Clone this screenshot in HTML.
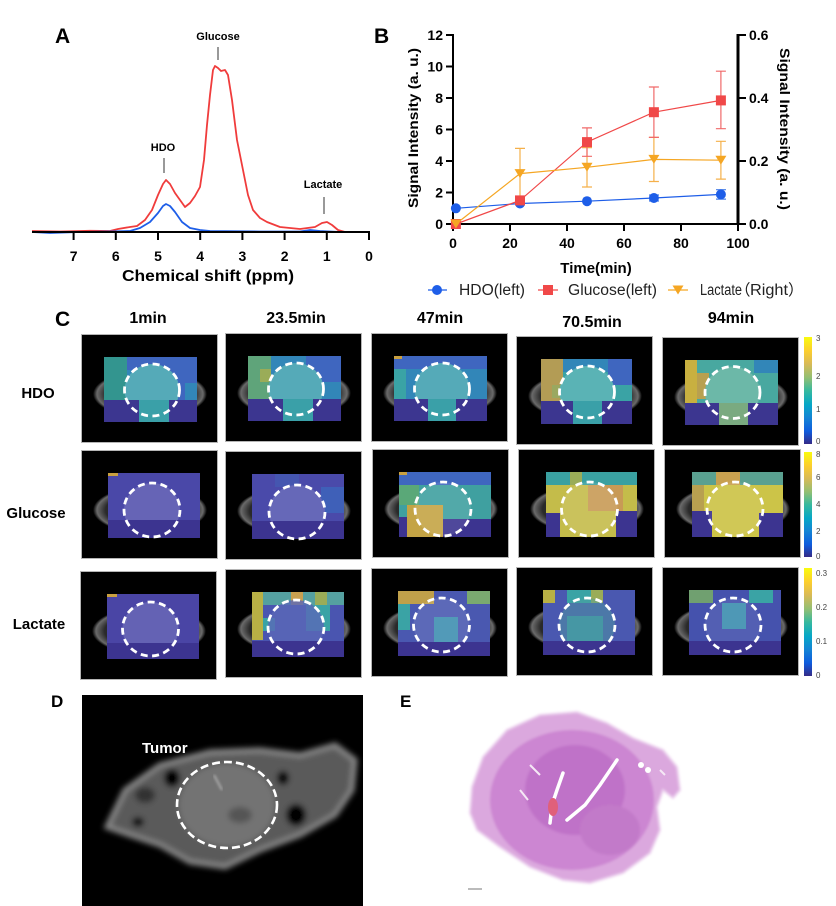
<!DOCTYPE html>
<html><head><meta charset="utf-8"><style>
html,body{margin:0;padding:0;background:#fff;}
svg{display:block;font-family:"Liberation Sans","Noto Sans CJK SC",sans-serif;}
</style></head><body>
<svg width="836" height="906" viewBox="0 0 836 906" xmlns="http://www.w3.org/2000/svg">
<defs>
<linearGradient id="parula" x1="0" y1="1" x2="0" y2="0">
<stop offset="0" stop-color="#352A87"/><stop offset="0.12" stop-color="#0F5CDD"/><stop offset="0.25" stop-color="#1485D4"/><stop offset="0.37" stop-color="#06A7C6"/><stop offset="0.5" stop-color="#38B99E"/><stop offset="0.62" stop-color="#92BF73"/><stop offset="0.75" stop-color="#D9BA56"/><stop offset="0.87" stop-color="#FCCE2E"/><stop offset="1" stop-color="#F9FB0E"/>
</linearGradient>
<radialGradient id="body" cx="0.5" cy="0.5" r="0.5">
<stop offset="0" stop-color="#222"/><stop offset="0.78" stop-color="#2a2a2a"/><stop offset="0.93" stop-color="#6a6a6a"/><stop offset="1" stop-color="#000"/>
</radialGradient>
<filter id="bl3"><feGaussianBlur stdDeviation="3"/></filter>
<filter id="bl1"><feGaussianBlur stdDeviation="1.2"/></filter>
<g id="tb"><rect x="0.5" y="0.5" width="136" height="108" fill="#000" stroke="#b5b5b5" stroke-width="1"/><ellipse cx="69" cy="60" rx="57" ry="24" fill="url(#body)"/></g>
</defs>

<!-- ============ PANEL A ============ -->
<text x="55" y="43" font-size="21" font-weight="bold" fill="#000">A</text>
<text x="218" y="40" font-size="11" font-weight="bold" text-anchor="middle">Glucose</text>
<line x1="218" y1="47" x2="218" y2="60" stroke="#333" stroke-width="1"/>
<text x="163" y="151" font-size="11" font-weight="bold" text-anchor="middle">HDO</text>
<line x1="164" y1="158" x2="164" y2="173" stroke="#333" stroke-width="1"/>
<text x="323" y="188" font-size="11" font-weight="bold" text-anchor="middle">Lactate</text>
<line x1="324" y1="197" x2="324" y2="214" stroke="#333" stroke-width="1"/>
<path d="M32,231 L60,231.5 L90,230.8 L110,231 L118,229 L130,227 L137,226 L145,220 L152,210 L158,195 L163,184 L166,180 L170,184 L175,193 L180,200 L185,207 L190,203 L195,196 L200,187 L204,160 L207,125 L210,95 L213,70 L215,66 L218,68 L221,71 L225,70 L228,75 L232,100 L237,140 L243,170 L248,195 L253,210 L260,218 L267,222 L280,227 L300,229 L315,227 L322,223 L327,222 L332,225 L338,230 L345,232 L369,232" fill="none" stroke="#f03c3c" stroke-width="1.8" stroke-linejoin="round"/>
<path d="M32,232 L50,233 L80,232 L110,231.5 L130,231 L140,228 L150,222 L158,213 L163,206 L166,204 L170,206 L175,212 L182,222 L190,228 L200,230 L210,231 L260,231.5 L300,231.5 L310,230 L320,231 L340,232 L369,232" fill="none" stroke="#1e5ee8" stroke-width="1.8" stroke-linejoin="round"/>
<line x1="32" y1="232" x2="370" y2="232" stroke="#000" stroke-width="2"/>
<g stroke="#000" stroke-width="2">
<line x1="73.6" y1="232" x2="73.6" y2="240"/><line x1="115.8" y1="232" x2="115.8" y2="240"/><line x1="158" y1="232" x2="158" y2="240"/><line x1="200.2" y1="232" x2="200.2" y2="240"/><line x1="242.4" y1="232" x2="242.4" y2="240"/><line x1="284.6" y1="232" x2="284.6" y2="240"/><line x1="326.8" y1="232" x2="326.8" y2="240"/><line x1="369" y1="232" x2="369" y2="240"/>
</g>
<g font-size="14" font-weight="bold" text-anchor="middle">
<text x="73.6" y="261">7</text><text x="115.8" y="261">6</text><text x="158" y="261">5</text><text x="200.2" y="261">4</text><text x="242.4" y="261">3</text><text x="284.6" y="261">2</text><text x="326.8" y="261">1</text><text x="369" y="261">0</text>
</g>
<text x="122" y="281" font-size="16" font-weight="bold" textLength="172" lengthAdjust="spacingAndGlyphs">Chemical shift (ppm)</text>

<!-- ============ PANEL B ============ -->
<text x="374" y="43" font-size="21" font-weight="bold">B</text>
<line x1="453" y1="34" x2="453" y2="225" stroke="#000" stroke-width="2"/>
<line x1="452" y1="224" x2="739" y2="224" stroke="#000" stroke-width="2"/>
<line x1="738" y1="34" x2="738" y2="225" stroke="#000" stroke-width="3"/>
<g stroke="#000" stroke-width="2">
<line x1="446" y1="35" x2="453" y2="35"/><line x1="446" y1="66.5" x2="453" y2="66.5"/><line x1="446" y1="98" x2="453" y2="98"/><line x1="446" y1="129.5" x2="453" y2="129.5"/><line x1="446" y1="161" x2="453" y2="161"/><line x1="446" y1="192.5" x2="453" y2="192.5"/><line x1="446" y1="224" x2="453" y2="224"/>
<line x1="738" y1="35" x2="746" y2="35"/><line x1="738" y1="98" x2="746" y2="98"/><line x1="738" y1="161" x2="746" y2="161"/><line x1="738" y1="224" x2="746" y2="224"/>
<line x1="453" y1="224" x2="453" y2="231"/><line x1="510" y1="224" x2="510" y2="231"/><line x1="567" y1="224" x2="567" y2="231"/><line x1="624" y1="224" x2="624" y2="231"/><line x1="681" y1="224" x2="681" y2="231"/><line x1="738" y1="224" x2="738" y2="231"/>
</g>
<g font-size="14" font-weight="bold" text-anchor="end">
<text x="443" y="40">12</text><text x="443" y="71.5">10</text><text x="443" y="103">8</text><text x="443" y="134.5">6</text><text x="443" y="166">4</text><text x="443" y="197.5">2</text><text x="443" y="229">0</text>
</g>
<g font-size="14" font-weight="bold">
<text x="749" y="40">0.6</text><text x="749" y="103">0.4</text><text x="749" y="166">0.2</text><text x="749" y="229">0.0</text>
</g>
<g font-size="14" font-weight="bold" text-anchor="middle">
<text x="453" y="248">0</text><text x="510" y="248">20</text><text x="567" y="248">40</text><text x="624" y="248">60</text><text x="681" y="248">80</text><text x="738" y="248">100</text>
</g>
<text x="596" y="273" font-size="15" font-weight="bold" text-anchor="middle">Time(min)</text>
<text transform="translate(418,128) rotate(-90)" font-size="14" font-weight="bold" text-anchor="middle" textLength="160" lengthAdjust="spacingAndGlyphs">Signal Intensity (a. u.)</text>
<text transform="translate(780,129) rotate(90)" font-size="14" font-weight="bold" text-anchor="middle" textLength="162" lengthAdjust="spacingAndGlyphs">Signal Intensity (a. u.)</text>
<!-- lines -->
<polyline points="455.9,208.3 520,203.5 587,201.2 653.9,198 720.9,194.4" fill="none" stroke="#1e5ee8" stroke-width="1.2"/>
<polyline points="455.9,224 520,200.4 587,142.1 653.9,112.2 720.9,100.4" fill="none" stroke="#f04848" stroke-width="1.2"/>
<polyline points="455.9,224 520,173.6 587,167.3 653.9,159.4 720.9,160.2" fill="none" stroke="#f5a623" stroke-width="1.2"/>
<!-- error bars -->
<g stroke="#f5b04a" stroke-width="1.2" fill="none">
<path d="M520,198.8 V148.4 M515,148.4 H525 M515,198.8 H525"/>
<path d="M587,187 V147.6 M582,147.6 H592 M582,187 H592"/>
<path d="M653.9,181.5 V137.4 M648.9,137.4 H658.9 M648.9,181.5 H658.9"/>
<path d="M720.9,179.1 V141.3 M715.9,141.3 H725.9 M715.9,179.1 H725.9"/>
</g>
<g stroke="#f06a6a" stroke-width="1.2" fill="none">
<path d="M587,156.3 V127.9 M582,127.9 H592 M582,156.3 H592"/>
<path d="M653.9,137.4 V87 M648.9,87 H658.9 M648.9,137.4 H658.9"/>
<path d="M720.9,128.7 V71.2 M715.9,71.2 H725.9 M715.9,128.7 H725.9"/>
</g>
<g stroke="#4a80e8" stroke-width="1.2" fill="none">
<path d="M653.9,201 V195 M649,201 H659 M649,195 H659"/>
<path d="M720.9,199.1 V189.7 M716,199.1 H726 M716,189.7 H726"/>
</g>
<!-- markers -->
<g fill="#1e5ee8"><circle cx="455.9" cy="208.3" r="5"/><circle cx="520" cy="203.5" r="5"/><circle cx="587" cy="201.2" r="5"/><circle cx="653.9" cy="198" r="5"/><circle cx="720.9" cy="194.4" r="5"/></g>
<g fill="#f04848"><rect x="450.9" y="219" width="10" height="10"/><rect x="515" y="195.4" width="10" height="10"/><rect x="582" y="137.1" width="10" height="10"/><rect x="648.9" y="107.2" width="10" height="10"/><rect x="715.9" y="95.4" width="10" height="10"/></g>
<g fill="#f5a623"><path d="M450.4,219.5 h11 l-5.5,9 z"/><path d="M514.5,169.1 h11 l-5.5,9 z"/><path d="M581.5,162.8 h11 l-5.5,9 z"/><path d="M648.4,154.9 h11 l-5.5,9 z"/><path d="M715.4,155.7 h11 l-5.5,9 z"/></g>
<!-- legend -->
<line x1="428" y1="290" x2="447" y2="290" stroke="#1e5ee8" stroke-width="1.2"/><circle cx="437" cy="290" r="5" fill="#1e5ee8"/>
<text x="459" y="295" font-size="15.5" fill="#222" textLength="66" lengthAdjust="spacingAndGlyphs">HDO(left)</text>
<line x1="538" y1="290" x2="558" y2="290" stroke="#f04848" stroke-width="1.2"/><rect x="543" y="285" width="10" height="10" fill="#f04848"/>
<text x="568" y="295" font-size="15.5" fill="#222" textLength="89" lengthAdjust="spacingAndGlyphs">Glucose(left)</text>
<line x1="668" y1="290" x2="688" y2="290" stroke="#f5a623" stroke-width="1.2"/><path d="M672.5,285.5 h11 l-5.5,9 z" fill="#f5a623"/>
<text y="295" font-size="15.5" fill="#222"><tspan x="700" textLength="42" lengthAdjust="spacingAndGlyphs">Lactate</tspan><tspan x="735">（</tspan><tspan x="750" textLength="38" lengthAdjust="spacingAndGlyphs">Right</tspan><tspan x="788">）</tspan></text>

<!-- ============ PANEL C ============ -->
<text x="55" y="326" font-size="21" font-weight="bold">C</text>
<g font-size="16" font-weight="bold" text-anchor="middle">
<text x="148" y="323">1min</text><text x="296" y="323">23.5min</text><text x="440" y="323">47min</text><text x="592" y="327">70.5min</text><text x="731" y="323">94min</text>
</g>
<g font-size="15" font-weight="bold" text-anchor="middle">
<text x="38" y="398">HDO</text><text x="36" y="518">Glucose</text><text x="39" y="629">Lactate</text>
</g>

<!-- Row 1 HDO -->
<g transform="translate(81,334)"><use href="#tb"/>
<rect x="23" y="23" width="93" height="65" fill="#3f66bf"/>
<rect x="23" y="23" width="23" height="44" fill="#33958f"/>
<rect x="46" y="36" width="12" height="26" fill="#3286b8"/>
<rect x="104" y="49" width="12" height="17" fill="#3286b8"/>
<ellipse cx="71" cy="56" rx="27.5" ry="26" fill="#55aab8"/>
<rect x="23" y="66" width="93" height="22" fill="#3c3690"/>
<rect x="58" y="66" width="30" height="22" fill="#3aa0a8"/>
<ellipse cx="71" cy="56" rx="27.5" ry="26" fill="none" stroke="#fff" stroke-width="2.8" stroke-dasharray="7 4.5"/></g>

<g transform="translate(225,333)"><use href="#tb"/>
<rect x="23" y="23" width="93" height="65" fill="#3286b8"/>
<rect x="23" y="23" width="23" height="44" fill="#5fa47a"/>
<rect x="35" y="36" width="11" height="13" fill="#9aac58"/>
<rect x="81" y="23" width="35" height="26" fill="#3f66bf"/>
<ellipse cx="71" cy="56" rx="27.5" ry="26" fill="#55aab8"/>
<rect x="23" y="66" width="93" height="22" fill="#3c3690"/>
<rect x="58" y="66" width="30" height="22" fill="#3aa0a8"/>
<ellipse cx="71" cy="56" rx="27.5" ry="26" fill="none" stroke="#fff" stroke-width="2.8" stroke-dasharray="7 4.5"/></g>

<g transform="translate(371,333)"><use href="#tb"/>
<rect x="23" y="23" width="93" height="65" fill="#3286b8"/>
<rect x="23" y="23" width="93" height="13" fill="#3f66bf"/>
<rect x="23" y="23" width="8" height="3" fill="#c9a040"/>
<rect x="23" y="36" width="12" height="30" fill="#3aa3a5"/>
<ellipse cx="71" cy="56" rx="27.5" ry="26" fill="#55aab8"/>
<rect x="23" y="66" width="93" height="22" fill="#3c3690"/>
<rect x="57" y="66" width="28" height="22" fill="#3aa0a8"/>
<ellipse cx="71" cy="56" rx="27.5" ry="26" fill="none" stroke="#fff" stroke-width="2.8" stroke-dasharray="7 4.5"/></g>

<g transform="translate(516,336)"><use href="#tb"/>
<rect x="25" y="23" width="91" height="65" fill="#3aa3a5"/>
<rect x="25" y="23" width="22" height="43" fill="#b39c55"/>
<rect x="36" y="49" width="11" height="13" fill="#9aa860"/>
<rect x="47" y="23" width="69" height="13" fill="#3286b8"/>
<rect x="92" y="23" width="24" height="26" fill="#3f66bf"/>
<ellipse cx="71" cy="56" rx="27.5" ry="26" fill="#5ab3b5"/>
<rect x="25" y="65" width="91" height="23" fill="#3c3690"/>
<rect x="57" y="65" width="29" height="23" fill="#3aa0a8"/>
<ellipse cx="71" cy="56" rx="27.5" ry="26" fill="none" stroke="#fff" stroke-width="2.8" stroke-dasharray="7 4.5"/></g>

<g transform="translate(662,337)"><use href="#tb"/>
<rect x="23" y="23" width="93" height="65" fill="#48a8a0"/>
<rect x="23" y="23" width="12" height="43" fill="#c8b040"/>
<rect x="35" y="36" width="12" height="26" fill="#b8a050"/>
<rect x="92" y="23" width="24" height="13" fill="#3286b8"/>
<ellipse cx="70.5" cy="55.5" rx="27.5" ry="26" fill="#6cb8a8"/>
<rect x="23" y="66" width="93" height="22" fill="#3c3690"/>
<rect x="57" y="66" width="29" height="22" fill="#7aaa80"/>
<ellipse cx="70.5" cy="55.5" rx="27.5" ry="26" fill="none" stroke="#fff" stroke-width="2.8" stroke-dasharray="7 4.5"/></g>

<!-- Row 2 Glucose -->
<g transform="translate(81,450)"><use href="#tb"/>
<rect x="27" y="23" width="92" height="65" fill="#4a48a8"/>
<rect x="27" y="23" width="10" height="3" fill="#c9a040"/>
<ellipse cx="71" cy="60" rx="28" ry="27" fill="#6664b6"/>
<rect x="27" y="70" width="92" height="18" fill="#3c3490"/>
<ellipse cx="71" cy="60" rx="28" ry="27" fill="none" stroke="#fff" stroke-width="2.8" stroke-dasharray="7 4.5"/></g>

<g transform="translate(225,451)"><use href="#tb"/>
<rect x="27" y="23" width="92" height="65" fill="#4a4aaa"/>
<rect x="96" y="36" width="23" height="26" fill="#3f60b8"/>
<rect x="50" y="23" width="24" height="13" fill="#4556b0"/>
<ellipse cx="72" cy="61" rx="28" ry="27" fill="#6668b8"/>
<rect x="27" y="70" width="92" height="18" fill="#3c3490"/>
<ellipse cx="72" cy="61" rx="28" ry="27" fill="none" stroke="#fff" stroke-width="2.8" stroke-dasharray="7 4.5"/></g>

<g transform="translate(372,449)"><use href="#tb"/>
<rect x="27" y="23" width="92" height="65" fill="#3fa0a0"/>
<rect x="27" y="23" width="92" height="13" fill="#3f66bf"/>
<rect x="27" y="23" width="8" height="3" fill="#c9a040"/>
<rect x="27" y="36" width="20" height="20" fill="#5aa878"/>
<rect x="35" y="56" width="36" height="32" fill="#c4a445"/>
<rect x="27" y="68" width="8" height="20" fill="#3c3490"/>
<rect x="71" y="70" width="48" height="18" fill="#3c3490"/>
<ellipse cx="71" cy="60" rx="28" ry="27" fill="#fff" fill-opacity="0.1"/>
<ellipse cx="71" cy="60" rx="28" ry="27" fill="none" stroke="#fff" stroke-width="2.8" stroke-dasharray="7 4.5"/></g>

<g transform="translate(518,449)"><use href="#tb"/>
<rect x="28" y="23" width="91" height="65" fill="#c4bc4a"/>
<rect x="28" y="23" width="91" height="13" fill="#3aa0a0"/>
<rect x="52" y="23" width="12" height="13" fill="#9aac58"/>
<rect x="70" y="36" width="35" height="26" fill="#c89a55"/>
<rect x="28" y="64" width="14" height="24" fill="#3c3490"/>
<rect x="98" y="62" width="21" height="26" fill="#3c3490"/>
<ellipse cx="71.5" cy="60" rx="28" ry="27" fill="#fff" fill-opacity="0.1"/>
<ellipse cx="71.5" cy="60" rx="28" ry="27" fill="none" stroke="#fff" stroke-width="2.8" stroke-dasharray="7 4.5"/></g>

<g transform="translate(664,449)"><use href="#tb"/>
<rect x="28" y="23" width="91" height="65" fill="#ccc448"/>
<rect x="28" y="23" width="91" height="13" fill="#5aa090"/>
<rect x="52" y="23" width="24" height="13" fill="#c8a050"/>
<rect x="28" y="36" width="12" height="26" fill="#b8a050"/>
<rect x="28" y="62" width="20" height="26" fill="#3c3490"/>
<rect x="95" y="64" width="24" height="24" fill="#3c3490"/>
<ellipse cx="71" cy="60" rx="28" ry="27" fill="#fff" fill-opacity="0.08"/>
<ellipse cx="71" cy="60" rx="28" ry="27" fill="none" stroke="#fff" stroke-width="2.8" stroke-dasharray="7 4.5"/></g>

<!-- Row 3 Lactate -->
<g transform="translate(80,571)"><use href="#tb"/>
<rect x="27" y="23" width="92" height="65" fill="#4a45a5"/>
<rect x="27" y="23" width="10" height="3" fill="#c9a040"/>
<ellipse cx="70.5" cy="58" rx="28" ry="27" fill="#6462b4"/>
<rect x="27" y="72" width="92" height="16" fill="#3c3490"/>
<ellipse cx="70.5" cy="58" rx="28" ry="27" fill="none" stroke="#fff" stroke-width="2.8" stroke-dasharray="7 4.5"/></g>

<g transform="translate(225,569)"><use href="#tb"/>
<rect x="27" y="23" width="92" height="65" fill="#4a55b0"/>
<rect x="27" y="23" width="92" height="13" fill="#55a0a0"/>
<rect x="66" y="23" width="12" height="13" fill="#c8a050"/>
<rect x="90" y="23" width="12" height="13" fill="#9aac58"/>
<rect x="27" y="23" width="11" height="48" fill="#b8b045"/>
<rect x="38" y="49" width="12" height="13" fill="#3aa3a5"/>
<rect x="81" y="36" width="24" height="26" fill="#3aa3a5"/>
<ellipse cx="71" cy="58" rx="28" ry="27" fill="#5a68b8" fill-opacity="0.8"/>
<rect x="27" y="72" width="92" height="16" fill="#3c3490"/>
<ellipse cx="71" cy="58" rx="28" ry="27" fill="none" stroke="#fff" stroke-width="2.8" stroke-dasharray="7 4.5"/></g>

<g transform="translate(371,568)"><use href="#tb"/>
<rect x="27" y="23" width="92" height="65" fill="#4a58b0"/>
<rect x="27" y="23" width="36" height="13" fill="#c0a04a"/>
<rect x="96" y="23" width="23" height="13" fill="#7aaa70"/>
<rect x="27" y="36" width="12" height="26" fill="#3aa3a5"/>
<rect x="63" y="49" width="24" height="26" fill="#3f8fb0"/>
<ellipse cx="70.5" cy="57" rx="28" ry="27" fill="#fff" fill-opacity="0.1"/>
<rect x="27" y="74" width="92" height="14" fill="#3c3490"/>
<ellipse cx="70.5" cy="57" rx="28" ry="27" fill="none" stroke="#fff" stroke-width="2.8" stroke-dasharray="7 4.5"/></g>

<g transform="translate(516,567)"><use href="#tb"/>
<rect x="27" y="23" width="92" height="65" fill="#4a58b0"/>
<rect x="27" y="23" width="12" height="13" fill="#b8b045"/>
<rect x="51" y="23" width="24" height="13" fill="#3aa3a5"/>
<rect x="75" y="23" width="12" height="13" fill="#9aac58"/>
<rect x="51" y="49" width="36" height="26" fill="#3f90a8"/>
<ellipse cx="71" cy="58" rx="28" ry="27" fill="#50a0a0" fill-opacity="0.45"/>
<rect x="27" y="74" width="92" height="14" fill="#3c3490"/>
<ellipse cx="71" cy="58" rx="28" ry="27" fill="none" stroke="#fff" stroke-width="2.8" stroke-dasharray="7 4.5"/></g>

<g transform="translate(662,567)"><use href="#tb"/>
<rect x="27" y="23" width="92" height="65" fill="#4552ad"/>
<rect x="27" y="23" width="24" height="13" fill="#70a070"/>
<rect x="87" y="23" width="24" height="13" fill="#3aa3a5"/>
<rect x="60" y="36" width="24" height="26" fill="#3f90b0"/>
<ellipse cx="71" cy="58" rx="28" ry="27" fill="#fff" fill-opacity="0.08"/>
<rect x="27" y="74" width="92" height="14" fill="#3c3490"/>
<ellipse cx="71" cy="58" rx="28" ry="27" fill="none" stroke="#fff" stroke-width="2.8" stroke-dasharray="7 4.5"/></g>

<!-- colorbars -->
<rect x="804" y="337" width="8" height="107" fill="url(#parula)"/>
<rect x="804" y="452" width="8" height="105" fill="url(#parula)"/>
<rect x="804" y="568" width="8" height="108" fill="url(#parula)"/>
<g font-size="8" fill="#444">
<text x="816" y="341">3</text><text x="816" y="379">2</text><text x="816" y="412">1</text><text x="816" y="444">0</text>
<text x="816" y="457">8</text><text x="816" y="480">6</text><text x="816" y="507">4</text><text x="816" y="534">2</text><text x="816" y="559">0</text>
<text x="816" y="576">0.3</text><text x="816" y="610">0.2</text><text x="816" y="644">0.1</text><text x="816" y="678">0</text>
</g>

<!-- ============ PANEL D ============ -->
<text x="51" y="707" font-size="17" font-weight="bold">D</text>
<rect x="82" y="695" width="281" height="211" fill="#000"/>
<g filter="url(#bl3)">
<path d="M107,827 L125,790 L160,765 L210,752 L260,750 L300,755 L335,745 L355,760 L352,790 L335,815 L300,835 L260,850 L225,867 L190,862 L160,845 L130,835 Z" fill="#5a5a5a" stroke="#8a8a8a" stroke-width="5"/>
<ellipse cx="227" cy="805" rx="48" ry="41" fill="#737373"/>
<ellipse cx="172" cy="778" rx="8" ry="9" fill="#000"/>
<ellipse cx="283" cy="778" rx="6" ry="7" fill="#000"/>
<ellipse cx="296" cy="815" rx="10" ry="11" fill="#000"/>
<ellipse cx="138" cy="822" rx="6" ry="5" fill="#111"/>
<ellipse cx="145" cy="795" rx="10" ry="8" fill="#333"/>
<ellipse cx="240" cy="815" rx="12" ry="8" fill="#555"/>
</g>
<path d="M214,775 L222,790" stroke="#aaa" stroke-width="2" filter="url(#bl1)"/>
<text x="142" y="753" font-size="15" font-weight="bold" fill="#fff">Tumor</text>
<ellipse cx="227" cy="805" rx="50" ry="43" fill="none" stroke="#fff" stroke-width="2.6" stroke-dasharray="8 4"/>

<!-- ============ PANEL E ============ -->
<text x="400" y="707" font-size="17" font-weight="bold">E</text>
<g filter="url(#bl1)">
<path d="M472,787 L483,757 L507,730 L540,715 L577,712 L607,723 L633,738 L663,750 L677,767 L680,790 L673,798 L663,790 L657,807 L660,830 L650,853 L623,873 L590,883 L563,880 L530,867 L500,847 L477,830 L470,813 Z" fill="#dba8de" stroke="#ecd0ee" stroke-width="2"/>
<ellipse cx="572" cy="800" rx="82" ry="70" fill="#cc86d2"/>
<ellipse cx="575" cy="790" rx="50" ry="45" fill="#bf72c8"/>
<ellipse cx="610" cy="830" rx="30" ry="25" fill="#c27ac9"/>
</g>
<path d="M563,773 L557,790 L552,805 L550,823 M567,820 L585,805 L600,785 L617,760" stroke="#fff" stroke-width="3.5" fill="none" stroke-linecap="round"/>
<path d="M530,765 L540,775 M520,790 L528,800 M660,770 L665,775" stroke="#f5e8f5" stroke-width="2" fill="none"/>
<ellipse cx="553" cy="807" rx="5" ry="9" fill="#e0607a"/>
<circle cx="641" cy="765" r="3" fill="#fff"/><circle cx="648" cy="770" r="3" fill="#fff"/>
<line x1="468" y1="889" x2="482" y2="889" stroke="#777" stroke-width="1"/>
</svg>
</body></html>
